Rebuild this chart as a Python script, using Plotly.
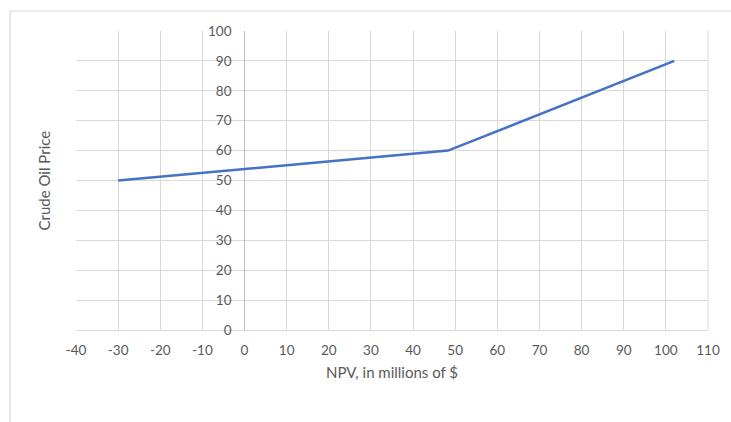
import plotly.graph_objects as go

# NPV (millions of $) against crude oil price
npv = [-30, 48.3, 102]
oil_price = [50, 60, 90]

x_ticks = list(range(-40, 111, 10))
y_ticks = list(range(0, 101, 10))

FONT = "Lato, 'Open Sans', sans-serif"
TEXT = "#595959"
GRID = "#d9d9d9"
AXIS = "#bfbfbf"

fig = go.Figure()
fig.add_trace(go.Scatter(
    x=npv, y=oil_price, mode="lines",
    line=dict(color="#4472C4", width=2.5),
    showlegend=False, hoverinfo="x+y",
))

# y axis crosses the x axis at NPV = 0
x_min, x_max = -40, 110
y_cross = (0 - x_min) / (x_max - x_min)

fig.update_layout(
    width=731, height=422,
    margin=dict(l=76, r=23, t=31, b=92),
    paper_bgcolor="white", plot_bgcolor="white",
    font=dict(family=FONT, size=13, color=TEXT),
    xaxis=dict(
        range=[x_min, x_max], tickvals=x_ticks, ticktext=[str(v) for v in x_ticks],
        showgrid=True, gridcolor=GRID, gridwidth=1,
        zeroline=True, zerolinecolor=AXIS, zerolinewidth=1,
        showline=True, linecolor=GRID, mirror=False,
        ticks="", ticklabelstandoff=8,
        tickfont=dict(family=FONT, size=13.5, color=TEXT),
        title=dict(text="NPV, in millions of $", standoff=10,
                   font=dict(family=FONT, size=15, color=TEXT)),
    ),
    yaxis=dict(
        range=[0, 100], tickvals=y_ticks, ticktext=[str(v) for v in y_ticks],
        anchor="free", position=y_cross,
        showgrid=True, gridcolor=GRID, gridwidth=1,
        zeroline=True, zerolinecolor=AXIS, zerolinewidth=1,
        showline=False, ticks="", ticklabelstandoff=13,
        tickfont=dict(family=FONT, size=13.5, color=TEXT),
        title=dict(text=""),
    ),
    shapes=[
        # right edge of plot area
        dict(type="line", xref="paper", yref="paper", x0=1, x1=1, y0=0, y1=1,
             line=dict(color=GRID, width=1)),
        # chart frame
        dict(type="rect", xref="paper", yref="paper",
             x0=(10 - 76) / 632, x1=1.2, y0=-0.4, y1=(330 - 11) / 299,
             line=dict(color=GRID, width=1.2), layer="below"),
    ],
    annotations=[
        dict(text="Crude Oil Price", xref="paper", yref="paper",
             x=(43 - 76) / 632, y=0.5, textangle=-90, showarrow=False,
             xanchor="center", yanchor="middle",
             font=dict(family=FONT, size=15, color=TEXT)),
    ],
)

fig.write_html("out.html")
